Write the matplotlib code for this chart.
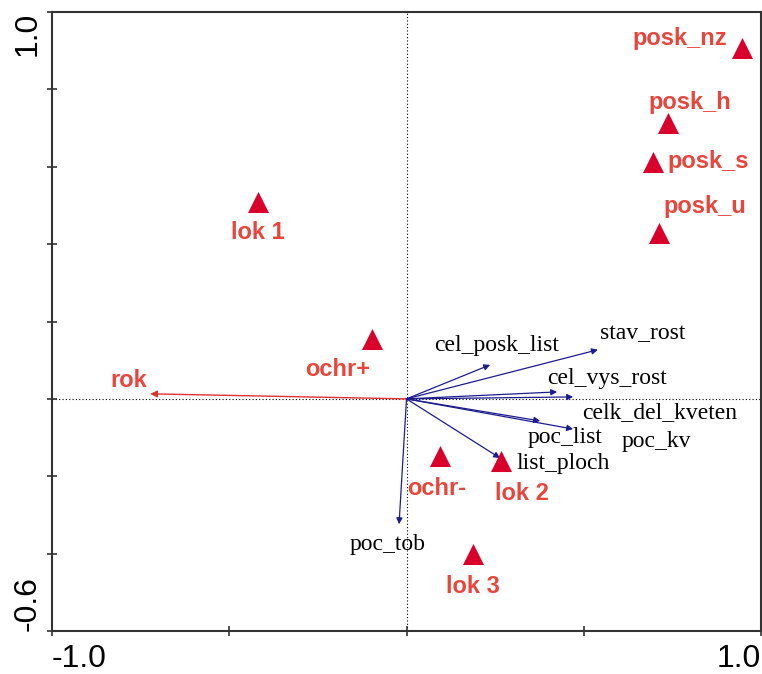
import matplotlib
matplotlib.use("Agg")
import matplotlib.pyplot as plt

# Samples / factor centroids (triangles)
sample_names = ["posk_nz", "posk_h", "posk_s", "posk_u", "lok 1", "ochr+", "ochr-", "lok 2", "lok 3"]
sample_x = [0.946, 0.738, 0.695, 0.712, -0.419, -0.097, 0.094, 0.267, 0.188]
sample_y = [0.907, 0.712, 0.611, 0.430, 0.508, 0.155, -0.148, -0.161, -0.402]
# label offsets in points from each triangle
sample_dx = [-45, 16, 40, 33, 0, -25, -2, 15, 0]
sample_dy = [7, 15, 1, 19, -22, -22, -23, -23, -23]

# Explanatory variable (red arrow)
env_names = ["rok"]
env_x = [-0.723]
env_y = [0.013]

# Response variables (blue arrows)
resp_names = ["cel_posk_list", "stav_rost", "cel_vys_rost", "celk_del_kveten",
              "poc_list", "poc_kv", "list_ploch", "poc_tob"]
resp_x = [0.236, 0.540, 0.425, 0.470, 0.377, 0.470, 0.264, -0.021]
resp_y = [0.088, 0.127, 0.018, 0.005, -0.057, -0.078, -0.153, -0.324]
resp_lx = [0.255, 0.667, 0.566, 0.715, 0.447, 0.706, 0.441, -0.052]
resp_ly = [0.137, 0.168, 0.052, -0.036, -0.101, -0.111, -0.168, -0.376]

red_text = "#e8453c"
tri_col = "#d9002b"
blue = "#1c1c8e"

fig = plt.figure(figsize=(7.62, 6.74), dpi=100)
ax = fig.add_axes([52 / 762, 43 / 674, 709 / 762, 619 / 674])
ax.set_xlim(-1.0, 1.0)
ax.set_ylim(-0.6, 1.0)

ax.axhline(0, color="black", lw=0.8, ls=(0, (1, 2)), zorder=1)
ax.axvline(0, color="black", lw=0.8, ls=(0, (1, 2)), zorder=1)

for name, x, y in zip(env_names, env_x, env_y):
    ax.annotate("", xy=(x, y), xytext=(0, 0),
                arrowprops=dict(arrowstyle="-|>", color="#e03030", lw=1.0,
                                mutation_scale=10, shrinkA=0, shrinkB=0))
    ax.text(x - 0.06, y + 0.035, name, color=red_text, fontsize=17,
            fontweight="bold", family="Liberation Sans", ha="center", va="center")

for name, x, y, lx, ly in zip(resp_names, resp_x, resp_y, resp_lx, resp_ly):
    ax.annotate("", xy=(x, y), xytext=(0, 0),
                arrowprops=dict(arrowstyle="-|>", color=blue, lw=0.9,
                                mutation_scale=9, shrinkA=0, shrinkB=0))
    ax.text(lx, ly, name, color="black", fontsize=17, family="Liberation Serif",
            ha="center", va="center")

ax.scatter(sample_x, sample_y, marker="^", s=230, color=tri_col, zorder=3, linewidths=0)
for name, x, y, dx, dy in zip(sample_names, sample_x, sample_y, sample_dx, sample_dy):
    ax.annotate(name, (x, y), xytext=(dx, dy), textcoords="offset points",
                color=red_text, fontsize=17, fontweight="bold", family="Liberation Sans",
                ha="center", va="center")

for s in ax.spines.values():
    s.set_color("#333333")
    s.set_linewidth(1.5)

ax.set_xticks([-1.0, -0.5, 0, 0.5, 1.0])
ax.set_xticklabels(["-1.0", "", "", "", "1.0"])
ax.set_yticks([-0.6, -0.4, -0.2, 0, 0.2, 0.4, 0.6, 0.8, 1.0])
ax.set_yticklabels(["-0.6", "", "", "", "", "", "", "", "1.0"])
ax.tick_params(direction="inout", length=7, width=1.2, color="#333333",
               labelsize=23, pad=6)
ax.tick_params(axis="y", pad=3)
xl = ax.get_xticklabels()
xl[0].set_ha("left")
xl[-1].set_ha("right")
for t in ax.get_yticklabels():
    t.set_rotation(90)
    t.set_family("Liberation Sans")
yl = ax.get_yticklabels()
yl[0].set_va("bottom")
yl[-1].set_va("top")
for t in xl:
    t.set_family("Liberation Sans")

fig.savefig("out.png", dpi=100)
